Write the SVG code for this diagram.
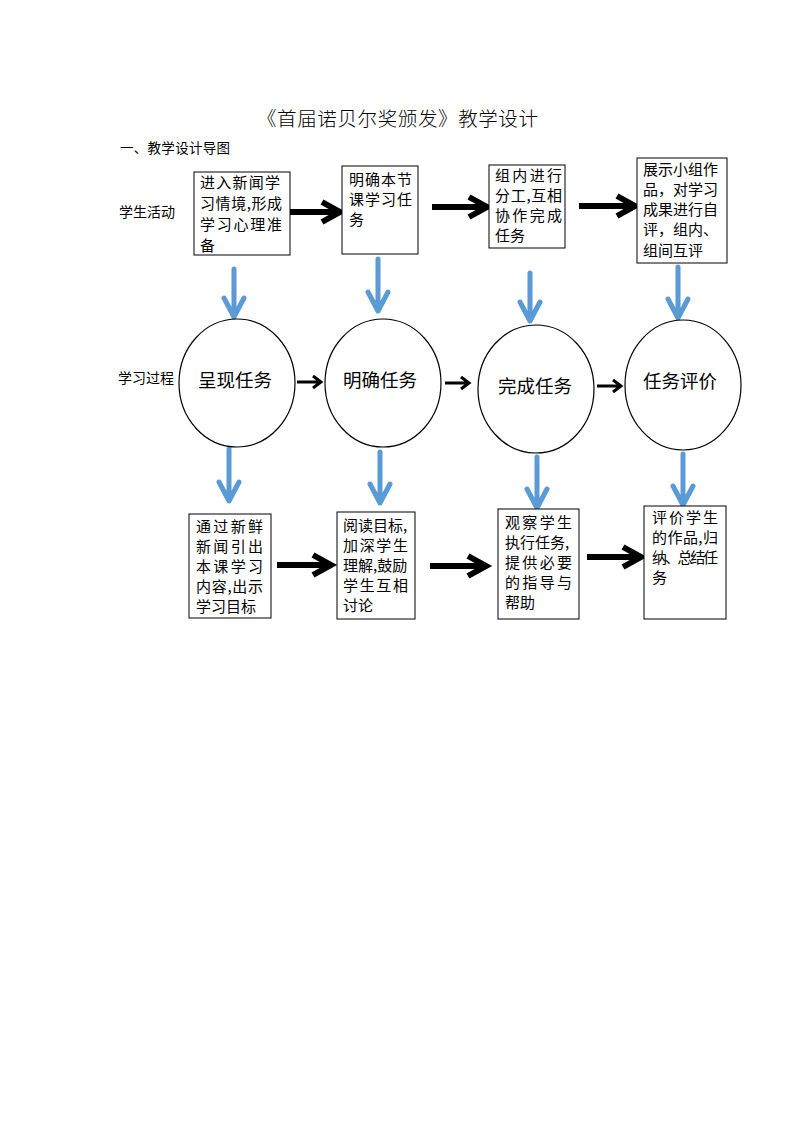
<svg xmlns="http://www.w3.org/2000/svg" width="794" height="1123" viewBox="0 0 794 1123">
<style>
text{font-family:"Noto Sans CJK SC","Liberation Sans",sans-serif;fill:#000}
.t{font-size:15px}
.lab{font-size:14px}
.ct{font-size:18.5px;text-anchor:middle}
.box{fill:#fff;stroke:#000;stroke-width:1}
.circ{fill:#fff;stroke:#000;stroke-width:1.2}
.ba{fill:none;stroke:#000;stroke-width:6;stroke-linejoin:miter}
.sa{fill:none;stroke:#000;stroke-width:3}
.blue{fill:none;stroke:#5B9BD5;stroke-width:5;stroke-linecap:round;stroke-linejoin:round}
</style>
<rect width="794" height="1123" fill="#fff"/>
<text x="257" y="126" style="font-size:19.5px;font-weight:300" textLength="281" lengthAdjust="spacing">《首届诺贝尔奖颁发》教学设计</text>
<text x="120" y="153" style="font-size:13.5px" textLength="110" lengthAdjust="spacing">一、教学设计导图</text>
<text x="119" y="217" class="lab">学生活动</text>
<text x="118" y="383" class="lab">学习过程</text>

<g id="connectors">
<path class="ba" d="M284 212 L340 212 M322 202 L340 212 L322 222"/>
<path class="ba" d="M432 207 L487 207 M469 197 L487 207 L469 217"/>
<path class="ba" d="M579 206 L635 206 M617 196 L635 206 L617 216"/>
<path class="sa" d="M297 382 L321 382 M313 376 L321 382 L313 388"/>
<path class="sa" d="M445 383 L469 383 M461 377 L469 383 L461 389"/>
<path class="sa" d="M597 386 L621 386 M613 380 L621 386 L613 392"/>
<path class="ba" d="M277 565 L331 565 M313 555 L331 565 L313 575"/>
<path class="ba" d="M430 566 L486 566 M468 556 L486 566 L468 576"/>
<path class="ba" d="M587 557 L641 557 M623 547 L641 557 L623 567"/>
<path class="blue" d="M234 269 L234 317 M224 298 L234 317 L244 298"/>
<path class="blue" d="M378 259 L378 311 M368 292 L378 311 L388 292"/>
<path class="blue" d="M530 273 L530 321 M520 302 L530 321 L540 302"/>
<path class="blue" d="M678 267 L678 318 M668 299 L678 318 L688 299"/>
<path class="blue" d="M229 449 L229 501 M219 482 L229 501 L239 482"/>
<path class="blue" d="M380 452 L380 503 M370 484 L380 503 L390 484"/>
<path class="blue" d="M537 457 L537 508 M527 489 L537 508 L547 489"/>
<path class="blue" d="M683 454 L683 505 M673 486 L683 505 L693 486"/>
</g>

<g id="box1"><rect class="box" x="194" y="172" width="96" height="83"/>
<text class="t" x="200" y="188" textLength="80" lengthAdjust="spacing">进入新闻学</text>
<text class="t" x="200" y="209" textLength="82" lengthAdjust="spacing">习情境,形成</text>
<text class="t" x="200" y="230" textLength="82" lengthAdjust="spacing">学习心理准</text>
<text class="t" x="200" y="251">备</text></g>

<g id="box2"><rect class="box" x="342" y="166" width="76" height="88"/>
<text class="t" x="349" y="185" textLength="63" lengthAdjust="spacing">明确本节</text>
<text class="t" x="349" y="205" textLength="63" lengthAdjust="spacing">课学习任</text>
<text class="t" x="349" y="225">务</text></g>

<g id="box3"><rect class="box" x="489" y="165" width="76" height="83"/>
<text class="t" x="495" y="181" textLength="67" lengthAdjust="spacing">组内进行</text>
<text class="t" x="495" y="201" textLength="67" lengthAdjust="spacing">分工,互相</text>
<text class="t" x="495" y="221" textLength="67" lengthAdjust="spacing">协作完成</text>
<text class="t" x="495" y="241">任务</text></g>

<g id="box4"><rect class="box" x="637" y="158" width="90" height="105"/>
<text class="t" x="643" y="175" textLength="75" lengthAdjust="spacing">展示小组作</text>
<text class="t" x="643" y="195" textLength="75" lengthAdjust="spacing">品，对学习</text>
<text class="t" x="643" y="215" textLength="75" lengthAdjust="spacing">成果进行自</text>
<text class="t" x="643" y="235" textLength="75" lengthAdjust="spacing">评，组内、</text>
<text class="t" x="643" y="256">组间互评</text></g>

<g id="c1"><ellipse class="circ" cx="237" cy="383" rx="58" ry="64"/><text class="ct" x="235" y="387">呈现任务</text></g>
<g id="c2"><ellipse class="circ" cx="383" cy="383" rx="58" ry="64"/><text class="ct" x="380" y="387">明确任务</text></g>
<g id="c3"><ellipse class="circ" cx="536" cy="389" rx="58" ry="64"/><text class="ct" x="535" y="393">完成任务</text></g>
<g id="c4"><ellipse class="circ" cx="683" cy="385" rx="58" ry="65"/><text class="ct" x="680" y="388">任务评价</text></g>

<g id="box5"><rect class="box" x="189" y="514" width="82" height="104"/>
<text class="t" x="196" y="532" textLength="67" lengthAdjust="spacing">通过新鲜</text>
<text class="t" x="196" y="552" textLength="67" lengthAdjust="spacing">新闻引出</text>
<text class="t" x="196" y="572" textLength="67" lengthAdjust="spacing">本课学习</text>
<text class="t" x="196" y="592" textLength="67" lengthAdjust="spacing">内容,出示</text>
<text class="t" x="196" y="612">学习目标</text></g>

<g id="box6"><rect class="box" x="337" y="512" width="78" height="107"/>
<text class="t" x="343" y="531">阅读目标,</text>
<text class="t" x="343" y="551" textLength="65" lengthAdjust="spacing">加深学生</text>
<text class="t" x="343" y="571">理解,鼓励</text>
<text class="t" x="343" y="591" textLength="65" lengthAdjust="spacing">学生互相</text>
<text class="t" x="343" y="611">讨论</text></g>

<g id="box7"><rect class="box" x="498" y="509" width="81" height="110"/>
<text class="t" x="505" y="528" textLength="67" lengthAdjust="spacing">观察学生</text>
<text class="t" x="505" y="548">执行任务,</text>
<text class="t" x="505" y="568" textLength="67" lengthAdjust="spacing">提供必要</text>
<text class="t" x="505" y="588" textLength="67" lengthAdjust="spacing">的指导与</text>
<text class="t" x="505" y="608">帮助</text></g>

<g id="box8"><rect class="box" x="644" y="506" width="82" height="113"/>
<text class="t" x="652" y="523" textLength="66" lengthAdjust="spacing">评价学生</text>
<text class="t" x="652" y="543" textLength="66" lengthAdjust="spacing">的作品,归</text>
<text class="t" x="652" y="563" textLength="66" lengthAdjust="spacing">纳、总结任</text>
<text class="t" x="652" y="583">务</text></g>
</svg>
